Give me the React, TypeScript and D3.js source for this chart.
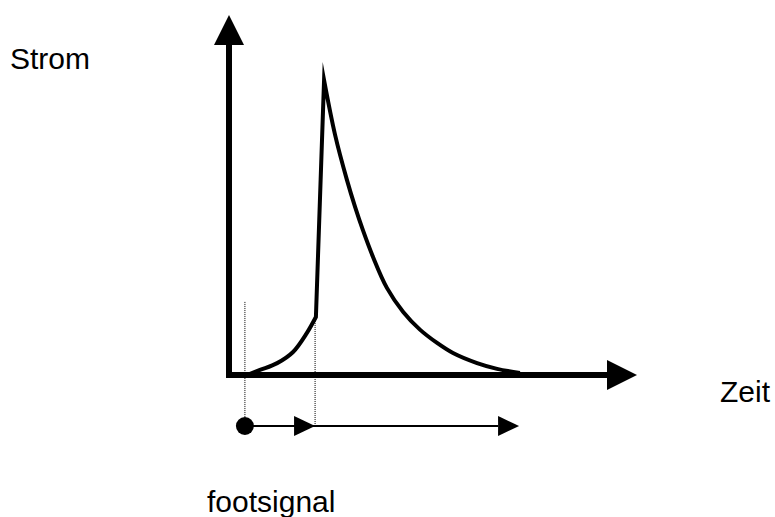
import React from "react";
import * as d3 from "d3";

// ---- data (abstract units: time 0..100, current 0..100) ----
const footTime = [4.4, 7.6, 11.8, 15.7, 19.1, 21.3];
const footCurrent = [0, 1.4, 3.3, 6.4, 11.7, 16.1];
const riseTime = [21.3, 23.3];
const riseCurrent = [16.1, 81.9];
const decayTime = [23.3, 26.0, 28.9, 30.9, 32.8, 35.3, 38.7, 42.7, 46.8, 51.0, 54.9, 60.8, 65.7, 71.3];
const decayCurrent = [81.9, 66.7, 54.2, 46.7, 40.3, 32.8, 24.2, 17.5, 12.6, 8.9, 6.1, 3.3, 1.7, 0.55];
const signalTimes = [3.9, 21.1, 71.1]; // dot, foot end, signal end
const dottedTop = [20.3, 16.1]; // current levels where the dotted guides start
const labels = { y: "Strom", x: "Zeit", signal: "footsignal" };

const W = 775;
const H = 517;
const FONT = "'Liberation Sans', Arial, Helvetica, sans-serif";

export default function App() {
  const x = d3.scaleLinear().domain([0, 100]).range([229, 637]);
  const y = d3.scaleLinear().domain([0, 100]).range([375, 15]);
  const rowY = 426;
  const headLen = 30;
  const headHalf = 15;

  const zip = (a: number[], b: number[]) => a.map((v, i) => [v, b[i]] as [number, number]);
  const smooth = d3
    .line<[number, number]>()
    .x((d) => x(d[0]))
    .y((d) => y(d[1]))
    .curve(d3.curveCatmullRom.alpha(0.5));
  const straight = d3
    .line<[number, number]>()
    .x((d) => x(d[0]))
    .y((d) => y(d[1]));

  const foot = smooth(zip(footTime, footCurrent)) || "";
  const rise = straight(zip(riseTime, riseCurrent)) || "";
  const decay = smooth(zip(decayTime, decayCurrent)) || "";
  const curvePath = foot + rise.replace(/^M/, "L") + decay.replace(/^M/, "L");

  const x0 = x(0);
  const y0 = y(0);
  const xEnd = x(100);
  const yEnd = y(100);

  const sDot = x(signalTimes[0]);
  const sMid = x(signalTimes[1]);
  const sEnd = x(signalTimes[2]);
  const smallLen = 21;
  const smallHalf = 10;

  return (
    <svg
      width={W}
      height={H}
      viewBox={`0 0 ${W} ${H}`}
      style={{ position: "absolute", left: 0, top: 0, background: "#fff" }}
    >
      {/* dotted guides */}
      <line
        x1={sDot}
        x2={sDot}
        y1={y(dottedTop[0])}
        y2={rowY - 9}
        stroke="#000"
        strokeWidth={1}
        strokeDasharray="1 1"
      />
      <line
        x1={sMid}
        x2={sMid}
        y1={y(dottedTop[1])}
        y2={rowY}
        stroke="#000"
        strokeWidth={1}
        strokeDasharray="1 1"
      />

      {/* current curve */}
      <path d={curvePath} fill="none" stroke="#000" strokeWidth={4} strokeLinejoin="miter" strokeMiterlimit={10} />

      {/* axes */}
      <line x1={x0} x2={x0} y1={y0 + 3} y2={yEnd + headLen} stroke="#000" strokeWidth={6} />
      <line x1={x0 - 3} x2={xEnd - headLen} y1={y0} y2={y0} stroke="#000" strokeWidth={6} />
      <polygon
        points={`${x0},${yEnd} ${x0 - headHalf},${yEnd + headLen} ${x0 + headHalf},${yEnd + headLen}`}
        fill="#000"
      />
      <polygon
        points={`${xEnd},${y0} ${xEnd - headLen},${y0 - headHalf} ${xEnd - headLen},${y0 + headHalf}`}
        fill="#000"
      />

      {/* foot signal arrows */}
      <line x1={sDot} x2={sEnd - smallLen} y1={rowY} y2={rowY} stroke="#000" strokeWidth={2} />
      <circle cx={sDot} cy={rowY} r={9} fill="#000" />
      <polygon
        points={`${sMid},${rowY} ${sMid - smallLen},${rowY - smallHalf} ${sMid - smallLen},${rowY + smallHalf}`}
        fill="#000"
      />
      <polygon
        points={`${sEnd},${rowY} ${sEnd - smallLen},${rowY - smallHalf} ${sEnd - smallLen},${rowY + smallHalf}`}
        fill="#000"
      />

      {/* labels */}
      <text x={10} y={69} fontFamily={FONT} fontSize={30} fill="#000">
        {labels.y}
      </text>
      <text x={720} y={402} fontFamily={FONT} fontSize={30} fill="#000">
        {labels.x}
      </text>
      <text x={207} y={512} fontFamily={FONT} fontSize={30} fill="#000">
        {labels.signal}
      </text>
    </svg>
  );
}
